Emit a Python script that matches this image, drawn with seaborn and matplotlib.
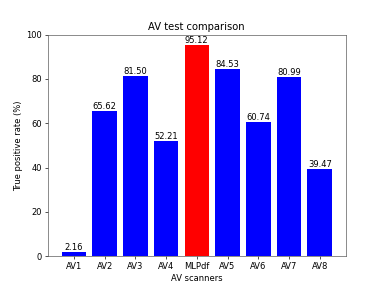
import matplotlib
matplotlib.use("Agg")
import matplotlib.pyplot as plt
import seaborn as sns
import pandas as pd

# Données
scanners = ["AV1", "AV2", "AV3", "AV4", "MLPdf", "AV5", "AV6", "AV7", "AV8"]
rates = [2.16, 65.62, 81.50, 52.21, 95.12, 84.53, 60.74, 80.99, 39.47]
bar_colors = ["blue", "blue", "blue", "blue", "red", "blue", "blue", "blue", "blue"]

df = pd.DataFrame({"scanner": scanners, "rate": rates})

fig, ax = plt.subplots(figsize=(6.4, 4.8), dpi=60)
sns.barplot(data=df, x="scanner", y="rate", hue="scanner",
            palette=bar_colors, legend=False, width=0.8,
            saturation=1, ax=ax)

# étiquettes de valeur au-dessus des barres
for patch, val in zip(ax.patches, rates):
    ax.text(patch.get_x() + patch.get_width() / 2, patch.get_height(),
            f"{val:.2f}", ha="center", va="bottom", fontsize=10)

ax.set_ylim(0, 100)
ax.set_xlim(-0.84, len(scanners) - 1 + 0.84)
ax.set_title("AV test comparison", fontsize=12)
ax.set_xlabel("AV scanners", fontsize=10)
ax.set_ylabel("True positive rate (%)", fontsize=10)
ax.tick_params(labelsize=10)
for sp in ax.spines.values():
    sp.set_edgecolor("#555555")

fig.savefig("out.png", dpi=60)
